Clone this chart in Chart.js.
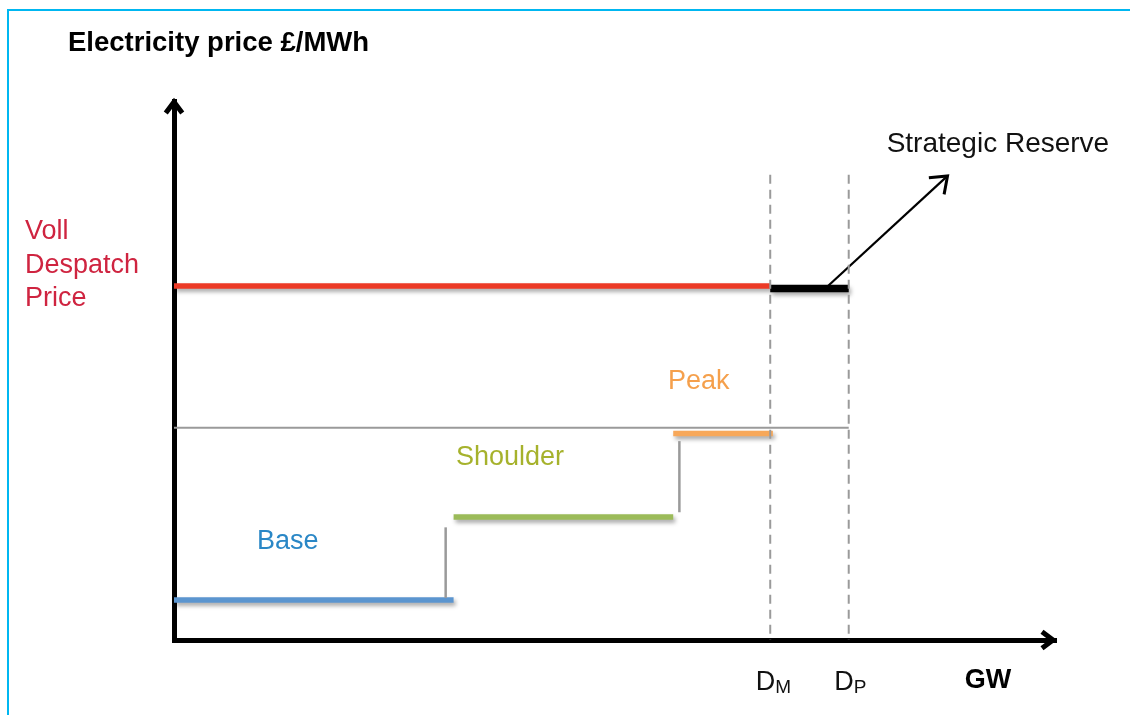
<!DOCTYPE html>
<html>
<head>
<meta charset="utf-8">
<title>Strategic reserve</title>
<script src="https://cdn.jsdelivr.net/npm/chart.js@4.4.0/dist/chart.umd.min.js"></script>
<style>
    html, body { margin: 0; padding: 0; background: #fff; }
    #wrap { position: relative; width: 1130px; height: 715px; overflow: hidden; }
    #frame {
        position: absolute; left: 7px; top: 9px; width: 1200px; height: 800px;
        border-left: 2px solid #00b7f1; border-top: 2px solid #00b7f1;
    }
    canvas { position: absolute; left: 0; top: 0; }
</style>
</head>
<body>
<div id="wrap">
    <div id="frame"></div>
    <canvas id="chart" width="1130" height="715"></canvas>
</div>
<script>
// Schematic values (arbitrary units: GW on x, £/MWh on y, both 0..100)
const demandMarks = [67.6, 76.5];          // D_M, D_P
const vollPrice = 65.7;
const reservePrice = 65.2;
const capPrice = 39.4;
const tierNames = ['Base', 'Shoulder', 'Peak'];
const tierStart = [0, 31.7, 56.6];
const tierEnd = [31.7, 56.6, 67.9];
const tierPrice = [7.4, 22.8, 38.3];
const stepX = [30.8, 57.3];
const stepFrom = [7.8, 23.7];
const stepTo = [20.9, 36.9];
const dashTop = 86.3;
const arrowFrom = [73.9, 65.3];
const arrowTo = [87.7, 86.1];

const tierColors = ['#5b95cf', '#9bbb59', '#f7a85a'];
const tierLabelColors = ['#2a87c6', '#a6b22c', '#f5a04c'];
const tierLabelPos = [[12.9, 18.3], [38.1, 33.9], [59.5, 47.9]];

const FONT = '"Liberation Sans", Arial, sans-serif';

function seg(x1, y1, x2, y2) {
    return [{ x: x1, y: y1 }, { x: x2, y: y2 }];
}

function lineSet(data, color, width, extra) {
    return Object.assign({
        data: data,
        showLine: true,
        borderColor: color,
        backgroundColor: color,
        borderWidth: width,
        pointRadius: 0,
        borderCapStyle: 'butt',
        tension: 0
    }, extra || {});
}

// Build datasets
const datasets = [];
datasets.push(lineSet(seg(0, capPrice, demandMarks[1], capPrice), '#9a9a9a', 2));
stepX.forEach((x, i) => {
    datasets.push(lineSet(seg(x, stepFrom[i], x, stepTo[i]), '#9a9a9a', 2.5));
});
// dashed demand lines, drawn top-down so the dash pattern starts at the top
demandMarks.forEach(x => {
    datasets.push(lineSet(seg(x, dashTop, x, 0), '#9a9a9a', 2, { borderDash: [9, 6] }));
});
tierNames.forEach((name, i) => {
    datasets.push(lineSet(seg(tierStart[i], tierPrice[i], tierEnd[i], tierPrice[i]), tierColors[i], 5.5, { shadow: true }));
});
datasets.push(lineSet(seg(0, vollPrice, demandMarks[0], vollPrice), '#ec3a26', 5.5, { shadow: true }));
datasets.push(lineSet(seg(demandMarks[0], reservePrice, demandMarks[1], reservePrice), '#000000', 7.5, { shadow: true }));
datasets.push(lineSet(seg(arrowFrom[0], arrowFrom[1], arrowTo[0], arrowTo[1]), '#000000', 2.2, { arrow: true }));

// Drop shadow for the thick coloured lines
const shadowPlugin = {
    id: 'shadow',
    beforeDatasetDraw(chart, args) {
        const ds = chart.data.datasets[args.index];
        if (!ds.shadow) return;
        const ctx = chart.ctx;
        ctx.save();
        ctx.shadowColor = 'rgba(0,0,0,0.35)';
        ctx.shadowBlur = 4;
        ctx.shadowOffsetX = 2;
        ctx.shadowOffsetY = 3;
    },
    afterDatasetDraw(chart, args) {
        const ds = chart.data.datasets[args.index];
        if (ds.shadow) chart.ctx.restore();
    }
};

function chevron(ctx, tipX, tipY, angle, len, width) {
    ctx.save();
    ctx.translate(tipX, tipY);
    ctx.rotate(angle);
    ctx.beginPath();
    ctx.moveTo(-len, -len * 0.75);
    ctx.lineTo(0, 0);
    ctx.lineTo(-len, len * 0.75);
    ctx.lineWidth = width;
    ctx.lineJoin = 'miter';
    ctx.lineCap = 'butt';
    ctx.strokeStyle = '#000';
    ctx.stroke();
    ctx.restore();
}

// Axis arrows, arrow heads and text annotations
const annotationPlugin = {
    id: 'annotations',
    afterDraw(chart) {
        const ctx = chart.ctx;
        const xs = chart.scales.x;
        const ys = chart.scales.y;
        const area = chart.chartArea;

        // axis arrow heads
        chevron(ctx, area.left, area.top + 1, -Math.PI / 2, 11, 5);
        chevron(ctx, area.right - 3, area.bottom, 0, 11, 5);

        // strategic reserve arrow head
        const fx = xs.getPixelForValue(arrowFrom[0]), fy = ys.getPixelForValue(arrowFrom[1]);
        const tx = xs.getPixelForValue(arrowTo[0]), ty = ys.getPixelForValue(arrowTo[1]);
        chevron(ctx, tx, ty, Math.atan2(ty - fy, tx - fx), 15, 3);

        ctx.save();
        ctx.textBaseline = 'middle';

        // title
        ctx.fillStyle = '#000';
        ctx.font = 'bold 27.5px ' + FONT;
        ctx.textAlign = 'left';
        ctx.fillText('Electricity price £/MWh', 68, 43);

        // VOLL label
        ctx.fillStyle = '#cf2440';
        ctx.font = '27px ' + FONT;
        const vy = ys.getPixelForValue(vollPrice);
        ['Voll', 'Despatch', 'Price'].forEach((t, i) => {
            ctx.fillText(t, 25, vy - 54 + i * 33.5);
        });

        // tier labels
        ctx.textAlign = 'center';
        tierNames.forEach((name, i) => {
            ctx.fillStyle = tierLabelColors[i];
            ctx.fillText(name, xs.getPixelForValue(tierLabelPos[i][0]), ys.getPixelForValue(tierLabelPos[i][1]));
        });

        // strategic reserve
        ctx.fillStyle = '#111';
        ctx.textAlign = 'left';
        ctx.font = '28px ' + FONT;
        ctx.fillText('Strategic Reserve', xs.getPixelForValue(80.8), ys.getPixelForValue(92.0));

        // D_M, D_P
        const subs = ['M', 'P'];
        demandMarks.forEach((x, i) => {
            const px = xs.getPixelForValue(x);
            ctx.font = '27px ' + FONT;
            ctx.textAlign = 'right';
            ctx.fillText('D', px + 5, area.bottom + 43);
            ctx.font = '19px ' + FONT;
            ctx.textAlign = 'left';
            ctx.fillText(subs[i], px + 5, area.bottom + 48);
        });

        // GW
        ctx.font = 'bold 27px ' + FONT;
        ctx.textAlign = 'center';
        ctx.fillStyle = '#000';
        ctx.fillText('GW', 988, area.bottom + 41);
        ctx.restore();
    }
};

new Chart(document.getElementById('chart'), {
    type: 'scatter',
    data: { datasets: datasets },
    options: {
        responsive: false,
        animation: false,
        layout: { padding: { left: 166, top: 101, right: 74, bottom: 67 } },
        plugins: {
            legend: { display: false },
            tooltip: { enabled: false }
        },
        scales: {
            x: {
                type: 'linear', min: 0, max: 100,
                grid: { display: false },
                ticks: { display: false },
                border: { display: true, color: '#000', width: 5 }
            },
            y: {
                type: 'linear', min: 0, max: 100,
                grid: { display: false },
                ticks: { display: false },
                border: { display: true, color: '#000', width: 5 }
            }
        }
    },
    plugins: [shadowPlugin, annotationPlugin]
});
</script>
</body>
</html>
